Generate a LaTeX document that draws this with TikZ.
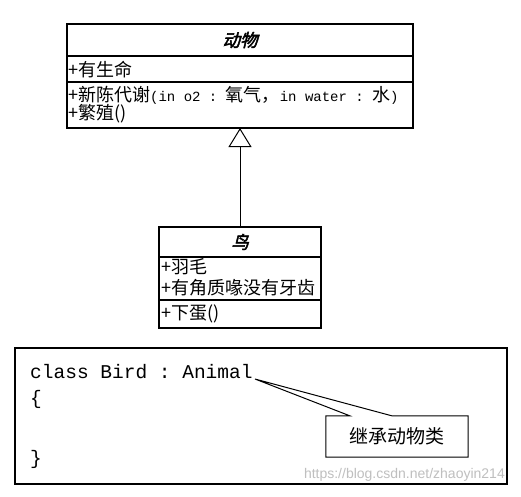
\documentclass[tikz,border=0pt]{standalone}
\usepackage{fontspec}
\setmainfont{Noto Sans CJK SC}
\setmonofont{Liberation Mono}
\newfontfamily\titlefont[FakeBold=2.5,FakeSlant=0.25]{Noto Sans CJK SC}
\newfontfamily\wmfont{Liberation Sans}
\usetikzlibrary{arrows.meta}
\tikzset{
  classbox/.style={draw, line width=1.2pt, inner sep=0pt, outer sep=0pt},
  divider/.style={line width=1.2pt},
  classtitle/.style={inner sep=0pt, font=\titlefont\fontsize{17.5}{17.5}\selectfont},
  member/.style={anchor=base west, inner sep=0pt, font=\fontsize{18}{18}\selectfont},
  codetxt/.style={anchor=base west, inner sep=0pt, font=\ttfamily\fontsize{19.5}{19.5}\selectfont},
  codebox/.style={draw, line width=1.1pt, inner sep=0pt, outer sep=0pt},
  calloutline/.style={line width=1pt},
  callouttxt/.style={inner sep=0pt, font=\fontsize{19}{19}\selectfont},
  inherit/.style={line width=1pt, -{Triangle[open,length=19pt,width=23pt,line width=1pt]}},
  watermark/.style={inner sep=0pt, anchor=base east, text=black!25, font=\wmfont\fontsize{14}{14}\selectfont}
}
\newcommand{\mt}[1]{{\ttfamily\fontsize{14}{14}\selectfont #1}}
\begin{document}
\begin{tikzpicture}[x=1pt,y=-1pt]
\useasboundingbox[fill=white] (0,0) rectangle (521,496);
% Animal class
\node[classbox, minimum width=346pt, minimum height=104pt] (animal) at (240,76) {};
\draw[divider] ([yshift=-32pt]animal.north west) -- ([yshift=-32pt]animal.north east);
\draw[divider] ([yshift=-58pt]animal.north west) -- ([yshift=-58pt]animal.north east);
\node[classtitle] (animaltitle) at (240,40) {动物};
\node[member] (a1) at (68,76) {+有生命};
\node[member] (a2) at (68,101) {+新陈代谢\mt{(in o2 : }氧气，\mt{in water : }水\mt{)}};
\node[member] (a3) at (68,119) {+繁殖()};
% Bird class
\node[classbox, minimum width=162pt, minimum height=101pt] (bird) at (240,277.5) {};
\draw[divider] ([yshift=-30pt]bird.north west) -- ([yshift=-30pt]bird.north east);
\draw[divider] ([yshift=-73pt]bird.north west) -- ([yshift=-73pt]bird.north east);
\node[classtitle] (birdtitle) at (240,242) {鸟};
\node[member] (b1) at (161,273) {+羽毛};
\node[member] (b2) at (161,294) {+有角质喙没有牙齿};
\node[member] (b3) at (161,319) {+下蛋()};
% inheritance
\draw[inherit] (bird.north) -- (animal.south);
% code box
\node[codebox, minimum width=492pt, minimum height=136pt] (code) at (261,416) {};
\node[codetxt] (c1) at (30,378) {class Bird : Animal};
\node[codetxt] (c2) at (30,404) {\{};
\node[codetxt] (c3) at (30,464) {\}};
\coordinate (tip) at (255,379);
% callout
\node[minimum width=142pt, minimum height=41pt, inner sep=0pt] (callout) at (397,436.5) {};
\draw[calloutline, fill=white] (callout.north west) -- ([xshift=24pt]callout.north west) -- (tip) -- ([xshift=66pt]callout.north west) -- (callout.north east) -- (callout.south east) -- (callout.south west) -- cycle;
\node[callouttxt] (callouttext) at (callout.center) {继承动物类};
\node[watermark] (wm) at (505,478) {https://blog.csdn.net/zhaoyin214};
\end{tikzpicture}
\end{document}
